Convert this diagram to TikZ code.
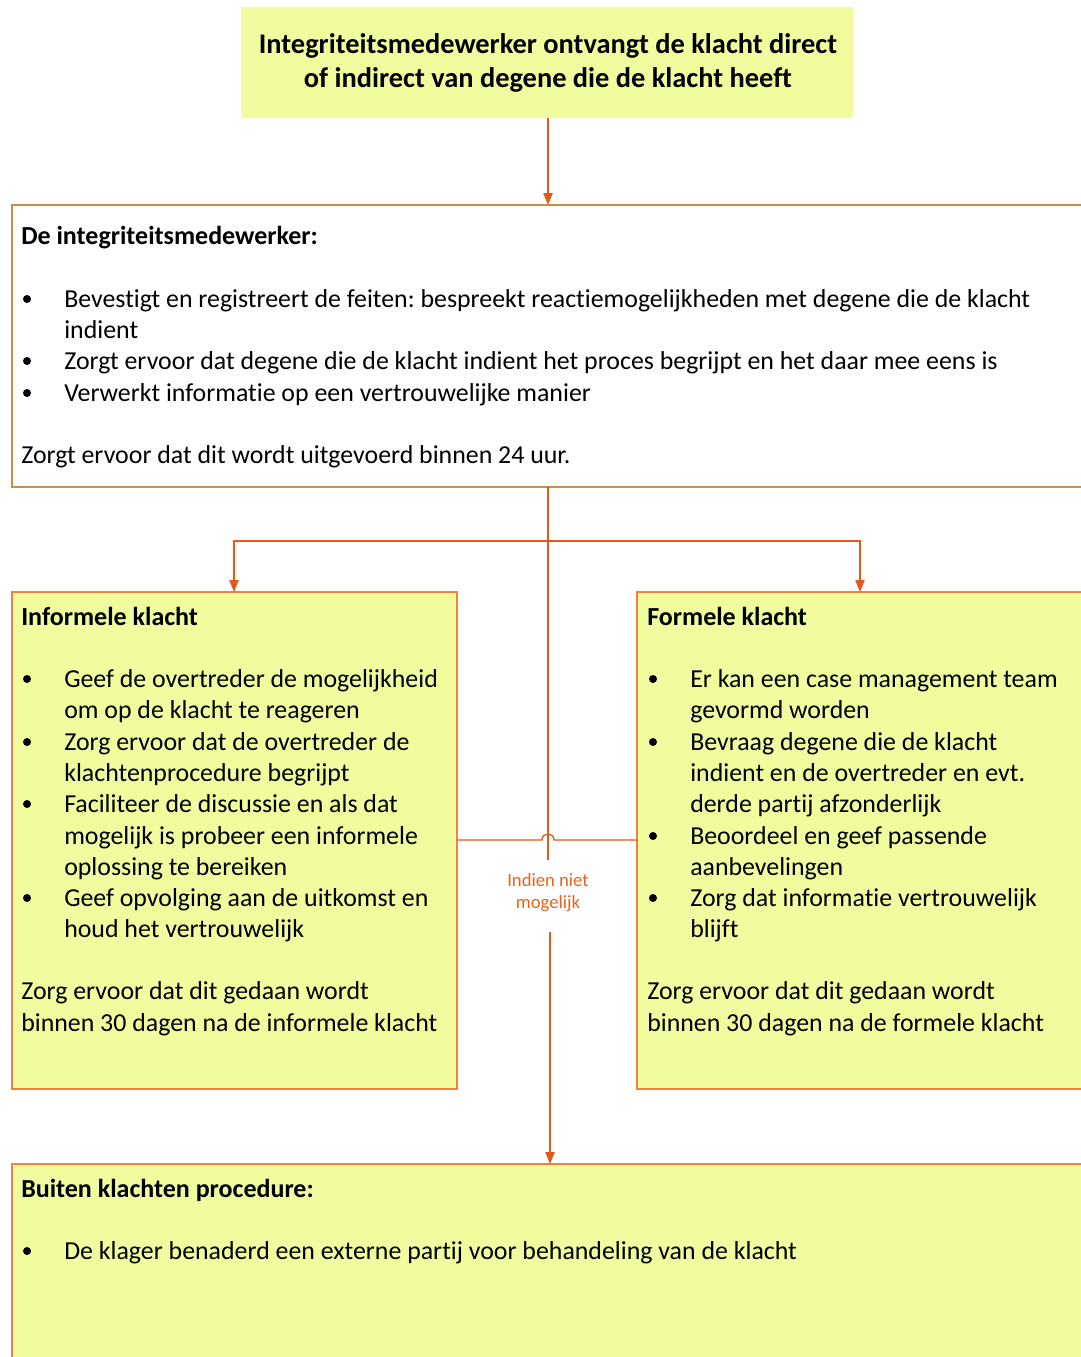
\documentclass[tikz,border=0pt]{standalone}
\usepackage{fontspec}
\setmainfont{Carlito}[Ligatures={NoCommon}]
\usetikzlibrary{arrows.meta}
\frenchspacing
\definecolor{boxyellow}{RGB}{240,252,157}
\definecolor{boxline}{RGB}{244,128,60}
\definecolor{tanline}{RGB}{205,140,75}
\definecolor{conn}{RGB}{228,88,28}
\definecolor{lbl}{RGB}{228,100,30}
\tikzset{
  ybox/.style={draw=boxline, fill=boxyellow, line width=1pt},
  wbox/.style={draw=tanline, fill=white, line width=1pt},
  topbox/.style={fill=boxyellow},
  conline/.style={draw=conn, line width=1pt},
  arr/.style={conline, -{Triangle[length=9pt,width=7pt]}},
  txt/.style={anchor=base west, inner sep=0pt, font=\fontsize{19.4}{23}\selectfont},
  btxt/.style={txt, font=\fontsize{19.5}{23}\selectfont\bfseries},
  ttxt/.style={anchor=base, inner sep=0pt, font=\fontsize{21.3}{25}\selectfont\bfseries},
  bul/.style={circle, fill=black, inner sep=0pt, minimum size=6pt},
  lab/.style={text=lbl, font=\fontsize{14}{16.5}\selectfont, align=center, inner sep=1pt, fill=white}
}
\begin{document}
\begin{tikzpicture}[x=0.75pt, y=-0.75pt]
\frenchspacing
\useasboundingbox (0,0) rectangle (1081,1357);
\clip (0,0) rectangle (1081,1357);
% boxes
\path[topbox] (241,7) rectangle (853,118);
\coordinate (topS) at (548,118);
\path[wbox] (12,205) rectangle (1100,487);
\coordinate (b2N) at (548,205);
\coordinate (b2S) at (548,487);
\path[ybox] (12,592) rectangle (457,1089);
\coordinate (infN) at (234,592);
\coordinate (infE) at (457,840);
\path[ybox] (637,592) rectangle (1100,1089);
\coordinate (forN) at (860,592);
\coordinate (forW) at (637,840);
\path[ybox] (12,1164) rectangle (1100,1380);
\coordinate (botN) at (550,1164);

% top text
\node[ttxt] (t1) at (548,53) {Integriteitsmedewerker ontvangt de klacht direct};
\node[ttxt] (t2) at (548,87) {of indirect van degene die de klacht heeft};

% box 2 text
\node[btxt] (h2) at (21,244) {De integriteitsmedewerker:};
\node[bul] (u1) at (27,299) {};
\node[txt] (l1) at (64,307) {Bevestigt en registreert de feiten: bespreekt reactiemogelijkheden met degene die de klacht};
\node[txt] (l2) at (64,338) {indient};
\node[bul] (u2) at (27,361) {};
\node[txt] (l3) at (64,369) {Zorgt ervoor dat degene die de klacht indient het proces begrijpt en het daar mee eens is};
\node[bul] (u3) at (27,393) {};
\node[txt] (l4) at (64,401) {Verwerkt informatie op een vertrouwelijke manier};
\node[txt] (l5) at (21,463) {Zorgt ervoor dat dit wordt uitgevoerd binnen 24 uur.};

% informele
\node[btxt] (hi) at (21,625) {Informele klacht};
\node[bul] (ui1) at (27,679) {};
\node[txt] (i1) at (64,687) {Geef de overtreder de mogelijkheid};
\node[txt] (i2) at (64,718) {om op de klacht te reageren};
\node[bul] (ui2) at (27,742) {};
\node[txt] (i3) at (64,750) {Zorg ervoor dat de overtreder de};
\node[txt] (i4) at (64,781) {klachtenprocedure begrijpt};
\node[bul] (ui3) at (27,804) {};
\node[txt] (i5) at (64,812) {Faciliteer de discussie en als dat};
\node[txt] (i6) at (64,844) {mogelijk is probeer een informele};
\node[txt] (i7) at (64,875) {oplossing te bereiken};
\node[bul] (ui4) at (27,898) {};
\node[txt] (i8) at (64,906) {Geef opvolging aan de uitkomst en};
\node[txt] (i9) at (64,937) {houd het vertrouwelijk};
\node[txt] (i10) at (21,999) {Zorg ervoor dat dit gedaan wordt};
\node[txt] (i11) at (21,1031) {binnen 30 dagen na de informele klacht};

% formele
\node[btxt] (hf) at (647,625) {Formele klacht};
\node[bul] (uf1) at (653,679) {};
\node[txt] (f1) at (690,687) {Er kan een case management team};
\node[txt] (f2) at (690,718) {gevormd worden};
\node[bul] (uf2) at (653,742) {};
\node[txt] (f3) at (690,750) {Bevraag degene die de klacht};
\node[txt] (f4) at (690,781) {indient en de overtreder en evt.};
\node[txt] (f5) at (690,812) {derde partij afzonderlijk};
\node[bul] (uf3) at (653,836) {};
\node[txt] (f6) at (690,844) {Beoordeel en geef passende};
\node[txt] (f7) at (690,875) {aanbevelingen};
\node[bul] (uf4) at (653,898) {};
\node[txt] (f8) at (690,906) {Zorg dat informatie vertrouwelijk};
\node[txt] (f9) at (690,937) {blijft};
\node[txt] (f10) at (647,999) {Zorg ervoor dat dit gedaan wordt};
\node[txt] (f11) at (647,1031) {binnen 30 dagen na de formele klacht};

% bottom
\node[btxt] (hb) at (21,1197) {Buiten klachten procedure:};
\node[bul] (ub1) at (27,1251) {};
\node[txt] (bb1) at (64,1259) {De klager benaderd een externe partij voor behandeling van de klacht};

% connectors
\draw[arr] (topS) -- (b2N);
\coordinate (split) at (548,541);
\draw[conline] (b2S) -- (split);
\draw[arr] (split) -| (infN);
\draw[arr] (split) -| (forN);
% horizontal link with hop
\coordinate (hopL) at (542,840);
\coordinate (hopR) at (554,840);
\draw[conline] (infE) -- (hopL) .. controls (542,832) and (554,832) .. (hopR) -- (forW);
% vertical to bottom box
\node[lab] (nm) at (548,893) {Indien niet\\mogelijk};
\coordinate (gapT) at (548,860);
\coordinate (gapB) at (550,932);
\draw[conline] (split) -- (gapT);
\draw[arr] (gapB) -- (botN);
\end{tikzpicture}
\end{document}
